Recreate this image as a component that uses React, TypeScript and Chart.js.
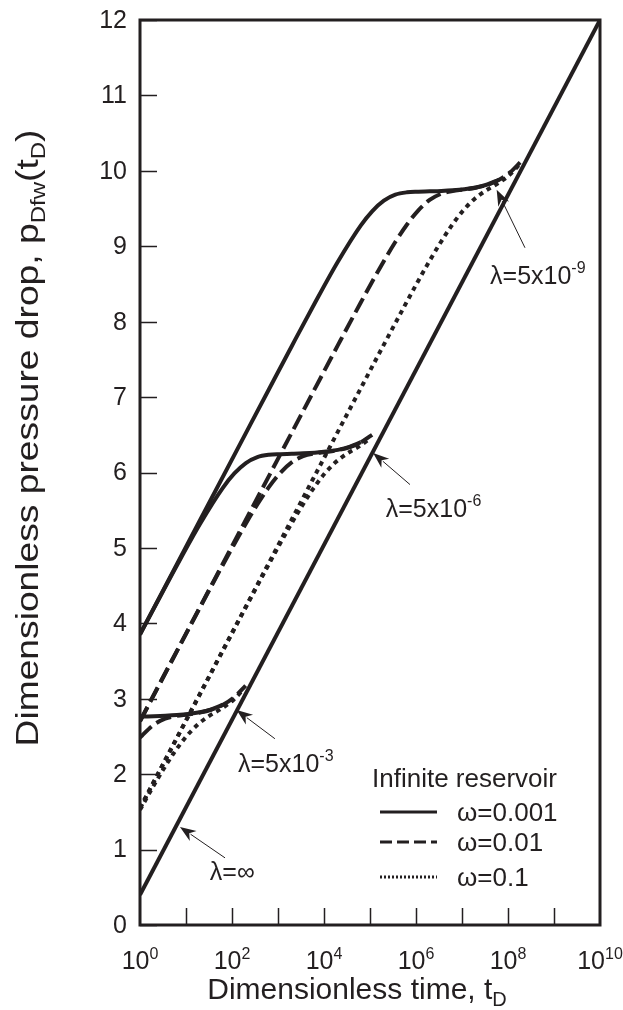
import React, { useEffect, useRef } from 'react';
import { Chart, registerables } from 'chart.js';

Chart.register(...registerables);

const INK = '#231f20';
const FONT = "'Liberation Sans', Arial, Helvetica, sans-serif";

// ---- Data (dimensionless time t_D, pressure drop p_Dfw) ----
// Infinite-acting reference line (lambda = infinity)
const tRef = [1, 1e10];
const pRef = [0.4, 12.0];

// lambda = 5e-3
const t_l3_w001 = [1, 1.125, 2, 3.556, 6.325, 11.25, 20, 35.56, 63.25];
const p_l3_w001 = [2.763, 2.764, 2.768, 2.774, 2.783, 2.797, 2.82, 2.859, 2.922];
const t_l3_w01 = [1, 1.113, 1.98, 3.521, 6.261, 11.13, 19.8, 35.21, 62.61, 111.3, 198];
const p_l3_w01 = [2.483, 2.513, 2.654, 2.736, 2.773, 2.792, 2.816, 2.854, 2.918, 3.02, 3.174];
const t_l3_w1 = [1, 1.8, 3.201, 5.692, 10.12, 18, 32.01, 56.92, 101.2, 180];
const p_l3_w1 = [1.527, 1.804, 2.061, 2.297, 2.499, 2.658, 2.773, 2.864, 2.972, 3.126];

// lambda = 5e-6
const t_l6_w001 = [1, 6.325, 20, 63.25, 112.5, 200, 355.6, 632.5, 1125, 2000, 3556, 6325, 11250, 20000, 35560, 63250];
const p_l6_w001 = [3.851, 4.767, 5.314, 5.797, 5.987, 6.125, 6.204, 6.235, 6.243, 6.248, 6.254, 6.263, 6.277, 6.3, 6.339, 6.402];
const t_l6_w01 = [1, 6.261, 19.8, 62.61, 198, 352.1, 626.1, 1113, 1980, 3521, 6261, 11130, 19800, 35210, 62610, 111300];
const p_l6_w01 = [2.702, 3.625, 4.202, 4.771, 5.318, 5.573, 5.802, 5.993, 6.134, 6.216, 6.253, 6.272, 6.296, 6.334, 6.398, 6.5];
const t_l6_w1 = [1, 18, 56.92, 180, 569.2, 1012, 1800, 3201, 5692, 10120, 18000, 32010, 56920, 101200];
const p_l6_w1 = [1.551, 3.007, 3.586, 4.163, 4.733, 5.013, 5.284, 5.541, 5.777, 5.979, 6.138, 6.253, 6.344, 6.452];

// lambda = 5e-9
const t_l9_w001 = [1, 20, 200, 632.5, 2000, 6325, 2e4, 6.325e4, 1.125e5, 2e5, 3.556e5, 6.325e5, 1.125e6, 2e6, 3.556e6, 6.325e6, 1.125e7, 2e7, 3.556e7, 6.325e7];
const p_l9_w001 = [3.854, 5.363, 6.522, 7.101, 7.678, 8.247, 8.794, 9.277, 9.467, 9.605, 9.684, 9.715, 9.723, 9.728, 9.734, 9.743, 9.757, 9.78, 9.819, 9.882];
const t_l9_w01 = [1, 19.8, 198, 1980, 6261, 19800, 62610, 1.98e5, 3.521e5, 6.261e5, 1.113e6, 1.98e6, 3.521e6, 6.261e6, 1.113e7, 1.98e7, 3.521e7, 6.261e7, 1.113e8, 1.98e8];
const p_l9_w01 = [2.703, 4.207, 5.367, 6.526, 7.105, 7.682, 8.251, 8.799, 9.053, 9.282, 9.473, 9.614, 9.696, 9.733, 9.752, 9.776, 9.814, 9.878, 9.98, 10.134];
const t_l9_w1 = [1, 18, 180, 1800, 18000, 56920, 1.8e5, 5.692e5, 1.012e6, 1.8e6, 3.201e6, 5.692e6, 1.012e7, 1.8e7, 3.201e7, 5.692e7, 1.012e8, 1.8e8];
const p_l9_w1 = [1.551, 3.007, 4.168, 5.327, 6.487, 7.066, 7.643, 8.213, 8.493, 8.764, 9.021, 9.257, 9.459, 9.618, 9.733, 9.824, 9.932, 10.086];

// ---- Axes ----
const yTickValues = [0, 1, 2, 3, 4, 5, 6, 7, 8, 9, 10, 11, 12];
const xTickMarks = [1e1, 1e2, 1e3, 1e4, 1e5, 1e6, 1e7, 1e8, 1e9];
const xLabelValues = [1, 1e2, 1e4, 1e6, 1e8, 1e10];
const xLabelExponents = ['0', '2', '4', '6', '8', '10'];

// ---- Legend ----
const legendTitle = 'Infinite reservoir';
const legendLabels = ['ω=0.001', 'ω=0.01', 'ω=0.1'];

// ---- Annotations (anchored in data coordinates) ----
const annLabels = ['λ=∞', 'λ=5x10', 'λ=5x10', 'λ=5x10'];
const annExponents = ['', '-3', '-6', '-9'];
const annTip = [[7.4, 1.3], [126, 2.85], [1.17e5, 6.26], [5.67e7, 9.75]];
const annTail = [[70.6, 0.89], [856, 2.47], [7.4e5, 5.84], [2.34e8, 8.98]];
const annText = [[33, 0.6], [135, 2.03], [2.2e5, 5.41], [4.07e7, 8.5]];

const STYLE_SOLID: number[] = [];
const STYLE_DASH = [16, 6];
const STYLE_DOT = [4.5, 4.5];

function pts(t: number[], p: number[]) {
  return t.map((v, i) => ({ x: v, y: p[i] }));
}

function ds(t: number[], p: number[], dash: number[]) {
  return {
    data: pts(t, p),
    borderColor: INK,
    borderWidth: 4,
    borderDash: dash,
    borderCapStyle: 'butt' as const,
    pointRadius: 0,
    fill: false,
    cubicInterpolationMode: 'monotone' as const,
  };
}

function drawSup(ctx: CanvasRenderingContext2D, base: string, sup: string, x: number, y: number, size: number, align: 'left' | 'center') {
  ctx.font = `${size}px ${FONT}`;
  const wb = ctx.measureText(base).width;
  const ss = Math.round(size * 0.64);
  ctx.font = `${ss}px ${FONT}`;
  const ws = sup ? ctx.measureText(sup).width : 0;
  const total = wb + ws;
  const x0 = align === 'center' ? x - total / 2 : x;
  ctx.textAlign = 'left';
  ctx.textBaseline = 'alphabetic';
  ctx.font = `${size}px ${FONT}`;
  ctx.fillText(base, x0, y);
  if (sup) {
    ctx.font = `${ss}px ${FONT}`;
    ctx.fillText(sup, x0 + wb, y - size * 0.42);
  }
}

function drawRich(ctx: CanvasRenderingContext2D, parts: [string, boolean][], cx: number, y: number, size: number, stretch = 1) {
  const subSize = Math.round(size * 0.66);
  let total = 0;
  parts.forEach(([s, sub]) => {
    ctx.font = `${sub ? subSize : size}px ${FONT}`;
    total += ctx.measureText(s).width;
  });
  ctx.save();
  ctx.translate(cx, y);
  ctx.scale(stretch, 1);
  let x = -total / 2;
  ctx.textAlign = 'left';
  ctx.textBaseline = 'alphabetic';
  parts.forEach(([s, sub]) => {
    ctx.font = `${sub ? subSize : size}px ${FONT}`;
    ctx.fillText(s, x, sub ? size * 0.22 : 0);
    x += ctx.measureText(s).width;
  });
  ctx.restore();
}

const overlay = {
  id: 'overlay',
  afterDraw(chart: any) {
    const { ctx, chartArea: a, scales } = chart;
    const xs = scales.x;
    const ys = scales.y;
    ctx.save();
    ctx.strokeStyle = INK;
    ctx.fillStyle = INK;

    // frame
    ctx.lineWidth = 3;
    ctx.setLineDash([]);
    ctx.strokeRect(a.left, a.top, a.right - a.left, a.bottom - a.top);

    // inner ticks
    ctx.lineWidth = 1.5;
    ctx.beginPath();
    yTickValues.forEach((v) => {
      const y = Math.round(ys.getPixelForValue(v)) + 0.5;
      ctx.moveTo(a.left, y);
      ctx.lineTo(a.left + 17, y);
    });
    xTickMarks.forEach((v) => {
      const x = Math.round(xs.getPixelForValue(v)) + 0.5;
      ctx.moveTo(x, a.bottom);
      ctx.lineTo(x, a.bottom - 17);
    });
    ctx.stroke();

    // y tick labels
    ctx.font = `25px ${FONT}`;
    ctx.textAlign = 'right';
    ctx.textBaseline = 'middle';
    yTickValues.forEach((v) => {
      ctx.fillText(String(v), a.left - 13, ys.getPixelForValue(v) + 1);
    });

    // x tick labels
    xLabelValues.forEach((v, i) => {
      drawSup(ctx, '10', xLabelExponents[i], xs.getPixelForValue(v), a.bottom + 44, 25, 'center');
    });

    // axis titles
    drawRich(ctx, [['Dimensionless time, t', false], ['D', true]], a.left + 217, a.bottom + 74, 30);
    ctx.save();
    ctx.translate(38, 438);
    ctx.rotate(-Math.PI / 2);
    drawRich(ctx, [['Dimensionless pressure drop, p', false], ['Dfw', true], ['(t', false], ['D', true], [')', false]], 0, 0, 31, 1.2);
    ctx.restore();

    // annotations
    annTip.forEach((tip, i) => {
      const x1 = xs.getPixelForValue(tip[0]);
      const y1 = ys.getPixelForValue(tip[1]);
      const x0 = xs.getPixelForValue(annTail[i][0]);
      const y0 = ys.getPixelForValue(annTail[i][1]);
      const ang = Math.atan2(y1 - y0, x1 - x0);
      const hl = 16;
      const hw = 6;
      ctx.lineWidth = 1;
      ctx.beginPath();
      ctx.moveTo(x0, y0);
      ctx.lineTo(x1 - Math.cos(ang) * hl * 0.8, y1 - Math.sin(ang) * hl * 0.8);
      ctx.stroke();
      ctx.beginPath();
      ctx.moveTo(x1, y1);
      ctx.lineTo(x1 - Math.cos(ang) * hl - Math.sin(ang) * hw, y1 - Math.sin(ang) * hl + Math.cos(ang) * hw);
      ctx.lineTo(x1 - Math.cos(ang) * hl * 0.7, y1 - Math.sin(ang) * hl * 0.7);
      ctx.lineTo(x1 - Math.cos(ang) * hl + Math.sin(ang) * hw, y1 - Math.sin(ang) * hl - Math.cos(ang) * hw);
      ctx.closePath();
      ctx.fill();
      const tx = xs.getPixelForValue(annText[i][0]);
      const ty = ys.getPixelForValue(annText[i][1]);
      drawSup(ctx, annLabels[i], annExponents[i], tx, ty, 25, 'left');
    });

    // legend
    const lx = a.right - 228;
    ctx.font = `26px ${FONT}`;
    ctx.textAlign = 'left';
    ctx.textBaseline = 'alphabetic';
    ctx.fillText(legendTitle, lx, 787);
    const rows = [812, 842, 877];
    const dashes = [[], [12, 5], [2, 2]];
    legendLabels.forEach((lab, i) => {
      ctx.lineWidth = 3;
      ctx.setLineDash(dashes[i]);
      ctx.beginPath();
      ctx.moveTo(lx + 8, rows[i]);
      ctx.lineTo(lx + 65, rows[i]);
      ctx.stroke();
      ctx.setLineDash([]);
      ctx.font = `26px ${FONT}`;
      ctx.fillText(lab, lx + 85, rows[i] + 9);
    });
    ctx.restore();
  },
};

export default function App() {
  const ref = useRef<HTMLCanvasElement>(null);
  useEffect(() => {
    if (!ref.current) return;
    const chart = new Chart(ref.current, {
      type: 'line',
      data: {
        datasets: [
          ds(tRef, pRef, STYLE_SOLID),
          ds(t_l3_w001, p_l3_w001, STYLE_SOLID),
          ds(t_l3_w01, p_l3_w01, STYLE_DASH),
          ds(t_l3_w1, p_l3_w1, STYLE_DOT),
          ds(t_l6_w001, p_l6_w001, STYLE_SOLID),
          ds(t_l6_w01, p_l6_w01, STYLE_DASH),
          ds(t_l6_w1, p_l6_w1, STYLE_DOT),
          ds(t_l9_w001, p_l9_w001, STYLE_SOLID),
          ds(t_l9_w01, p_l9_w01, STYLE_DASH),
          ds(t_l9_w1, p_l9_w1, STYLE_DOT),
        ] as any,
      },
      options: {
        animation: false,
        responsive: false,
        layout: { padding: { left: 0, right: 23, top: 20, bottom: 0 } },
        plugins: { legend: { display: false }, tooltip: { enabled: false } },
        scales: {
          x: {
            type: 'logarithmic',
            min: 1,
            max: 1e10,
            grid: { display: false },
            border: { display: false },
            ticks: { display: false },
            afterFit: (s: any) => { s.height = 85; },
          },
          y: {
            type: 'linear',
            min: 0,
            max: 12,
            grid: { display: false },
            border: { display: false },
            ticks: { display: false },
            afterFit: (s: any) => { s.width = 140; },
          },
        },
      } as any,
      plugins: [overlay],
    });
    return () => chart.destroy();
  }, []);
  return (
    <div style={{ position: 'absolute', left: 0, top: 0, width: 623, height: 1010, background: '#fff' }}>
      <canvas ref={ref} width={623} height={1010} style={{ display: 'block' }} />
    </div>
  );
}
